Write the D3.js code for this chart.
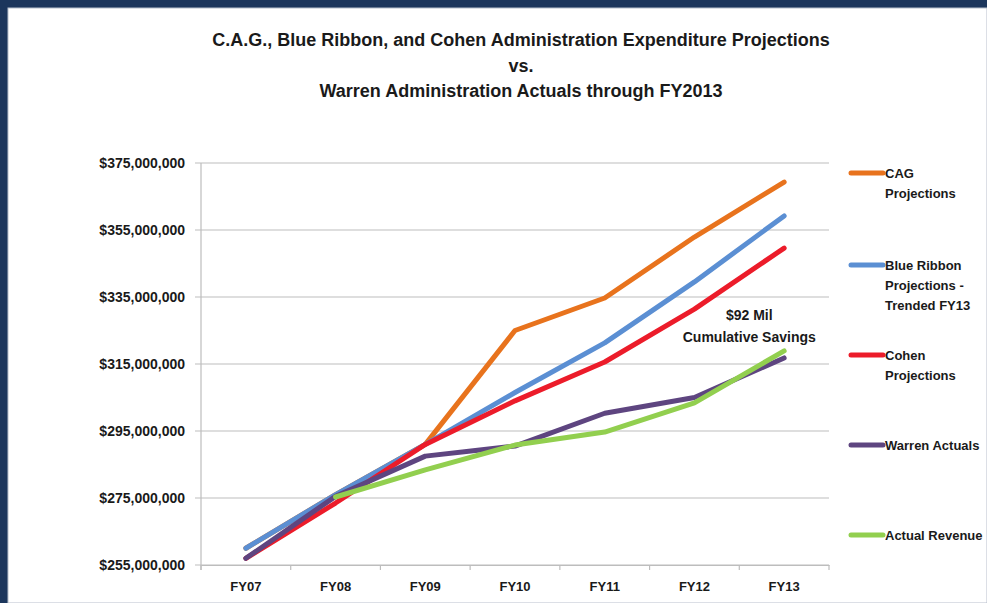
<!DOCTYPE html>
<html>
<head>
<meta charset="utf-8">
<script src="https://cdn.jsdelivr.net/npm/d3@7"></script>
<style>
  body { margin: 0; background: #1c365c; }
  svg { display: block; }
  text { font-family: "Liberation Sans", Arial, sans-serif; font-weight: bold; fill: #1a1a1a; }
</style>
</head>
<body>
<svg width="987" height="603"></svg>
<script>
// data
var years = ["FY07", "FY08", "FY09", "FY10", "FY11", "FY12", "FY13"];
var yTicks = [255e6, 275e6, 295e6, 315e6, 335e6, 355e6, 375e6];

var cagProjections    = [260, 276, 291, 325, 334.7, 352.9, 369.3];
var blueRibbon        = [260, 276, 291, 306.5, 321.3, 339.5, 359.2];
var cohenProjections  = [257, 273.5, 291, 304, 315.6, 331.4, 349.6];
var warrenActuals     = [257, 275.5, 287.5, 290.5, 300.3, 305, 316.8];
var actualRevenue     = [null, 275.3, 283.4, 290.8, 294.7, 303.4, 318.9];

var seriesNames = [["CAG", "Projections"], ["Blue Ribbon", "Projections -", "Trended FY13"],
                   ["Cohen", "Projections"], ["Warren Actuals"], ["Actual Revenue"]];
var seriesColors = ["#e8731d", "#5b8fd3", "#ec1c2a", "#5e4580", "#92cf4f"];
var seriesValues = [cagProjections, blueRibbon, cohenProjections, warrenActuals, actualRevenue];

var titleLines = ["C.A.G., Blue Ribbon, and Cohen Administration Expenditure Projections",
                  "vs.",
                  "Warren Administration Actuals through FY2013"];

var svg = d3.select("svg");

// white panel inside navy frame
svg.append("rect").attr("x", 0).attr("y", 0).attr("width", 987).attr("height", 603).attr("fill", "#1c365c");
svg.append("rect").attr("x", 8).attr("y", 8).attr("width", 979).attr("height", 595)
   .attr("fill", "#ffffff").attr("stroke", "#b8bfcc").attr("stroke-width", 1);

var margin = {top: 163, left: 201, right: 829, bottom: 565};

var x = d3.scaleBand().domain(years).range([margin.left, margin.right]);
var y = d3.scaleLinear().domain([255e6, 375e6]).range([margin.bottom, margin.top]);

// title
svg.selectAll(".title")
  .data(titleLines)
  .enter().append("text")
    .attr("class", "title")
    .attr("x", 521)
    .attr("y", function(d, i) { return [46, 72, 97][i]; })
    .attr("text-anchor", "middle")
    .style("font-size", "18px")
    .text(function(d) { return d; });

// gridlines
svg.append("g")
  .selectAll("line")
  .data(yTicks)
  .enter().append("line")
    .attr("x1", margin.left - 6)
    .attr("x2", margin.right)
    .attr("y1", function(d) { return y(d); })
    .attr("y2", function(d) { return y(d); })
    .attr("stroke", "#bdbdbd")
    .attr("stroke-width", 1.2);

// y axis
var yAxis = svg.append("g")
  .attr("transform", "translate(" + (margin.left - 6) + ",0)")
  .call(d3.axisLeft(y).tickValues(yTicks).tickSize(0).tickPadding(10)
    .tickFormat(function(d) { return "$" + d3.format(",")(d); }));
yAxis.select(".domain").remove();
yAxis.selectAll("text").style("font-size", "14px").attr("fill", "#1a1a1a");

svg.append("line")
  .attr("x1", margin.left).attr("x2", margin.left)
  .attr("y1", margin.top).attr("y2", margin.bottom + 5)
  .attr("stroke", "#bdbdbd").attr("stroke-width", 1.2);

// x axis
var xAxis = svg.append("g")
  .attr("transform", "translate(0," + margin.bottom + ")")
  .call(d3.axisBottom(x).tickSize(0).tickPadding(17));
xAxis.select(".domain").attr("stroke", "#bdbdbd").attr("stroke-width", 1.2);
xAxis.selectAll("text").style("font-size", "13px").attr("fill", "#1a1a1a");

svg.append("g")
  .selectAll("line")
  .data(d3.range(years.length + 1))
  .enter().append("line")
    .attr("x1", function(i) { return margin.left + i * x.bandwidth(); })
    .attr("x2", function(i) { return margin.left + i * x.bandwidth(); })
    .attr("y1", margin.bottom).attr("y2", margin.bottom + 5)
    .attr("stroke", "#bdbdbd").attr("stroke-width", 1.2);

// lines
var line = d3.line()
  .defined(function(d) { return d != null; })
  .x(function(d, i) { return x(years[i]) + x.bandwidth() / 2; })
  .y(function(d) { return y(d * 1e6); });

svg.append("g")
  .selectAll("path")
  .data(seriesValues)
  .enter().append("path")
    .attr("d", line)
    .attr("fill", "none")
    .attr("stroke", function(d, i) { return seriesColors[i]; })
    .attr("stroke-width", 5)
    .attr("stroke-linecap", "round")
    .attr("stroke-linejoin", "round");

// annotation
var annX = x("FY12") + x.bandwidth() + 10;
var ann = svg.append("text")
  .attr("x", annX)
  .attr("y", y(328e6))
  .attr("text-anchor", "middle")
  .style("font-size", "14px");
ann.append("tspan").attr("x", annX).attr("dy", 0).text("$92 Mil");
ann.append("tspan").attr("x", annX).attr("dy", 22).text("Cumulative Savings");

// legend
var legendY = [173, 265, 355, 445, 535];
var legend = svg.append("g")
  .selectAll("g")
  .data(seriesNames)
  .enter().append("g")
    .attr("transform", function(d, i) { return "translate(851," + legendY[i] + ")"; });

legend.append("line")
  .attr("x1", 0).attr("x2", 32)
  .attr("stroke", function(d, i) { return seriesColors[i]; })
  .attr("stroke-width", 5)
  .attr("stroke-linecap", "round");

legend.append("text")
  .attr("x", 34)
  .attr("y", 5)
  .style("font-size", "13px")
  .selectAll("tspan")
  .data(function(d) { return d; })
  .enter().append("tspan")
    .attr("x", 34)
    .attr("dy", function(d, i) { return i === 0 ? 0 : 20; })
    .text(function(d) { return d; });
</script>
</body>
</html>
